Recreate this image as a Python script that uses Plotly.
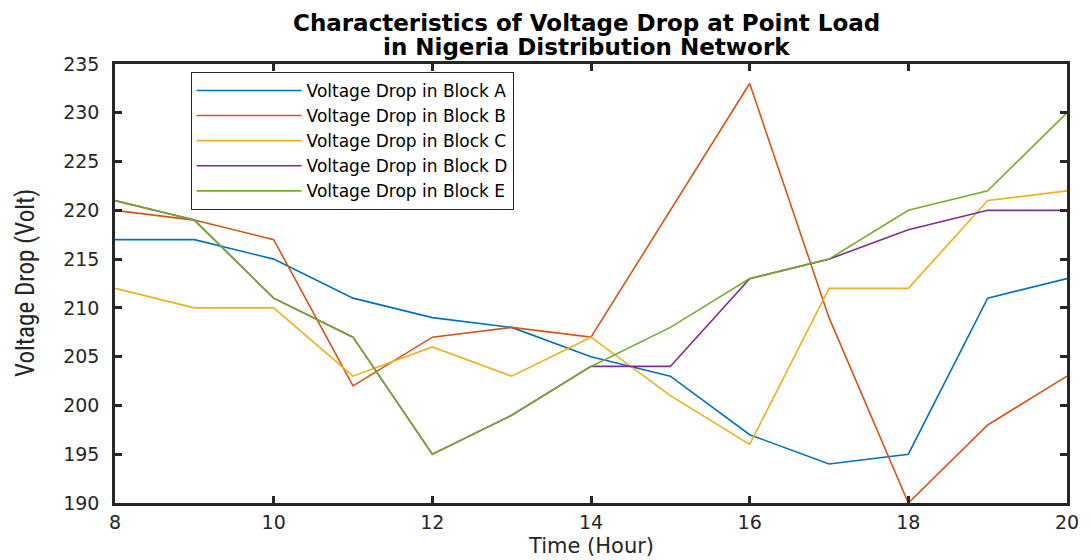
import plotly.graph_objects as go

hours = [8, 9, 10, 11, 12, 13, 14, 15, 16, 17, 18, 19, 20]
block_a = [217, 217, 215, 211, 209, 208, 205, 203, 197, 194, 195, 211, 213]
block_b = [220, 219, 217, 202, 207, 208, 207, 220, 233, 209, 190, 198, 203]
block_c = [212, 210, 210, 203, 206, 203, 207, 201, 196, 212, 212, 221, 222]
block_d = [221, 219, 211, 207, 195, 199, 204, 204, 213, 215, 218, 220, 220]
block_e = [221, 219, 211, 207, 195, 199, 204, 208, 213, 215, 220, 222, 230]

series_names = ["Voltage Drop in Block A", "Voltage Drop in Block B", "Voltage Drop in Block C",
                "Voltage Drop in Block D", "Voltage Drop in Block E"]
colors = ["#0072BD", "#D95319", "#EDB120", "#7E2F8E", "#77AC30"]
x_ticks = [8, 10, 12, 14, 16, 18, 20]
y_ticks = [190, 195, 200, 205, 210, 215, 220, 225, 230, 235]
title_lines = ["Characteristics of Voltage Drop at Point Load", "in Nigeria Distribution Network"]

WIDE = "DejaVu Sans, Verdana, sans-serif"
NARROW = "Liberation Sans Narrow, Arial Narrow, Roboto Condensed, sans-serif"

fig = go.Figure()
for name, vals, col in zip(series_names, [block_a, block_b, block_c, block_d, block_e], colors):
    fig.add_trace(go.Scatter(x=hours, y=vals, mode="lines", name=name,
                             line=dict(color=col, width=1.6)))

axis_common = dict(showline=True, linecolor="#262626", linewidth=2.5, mirror="ticks",
                   ticks="inside", ticklen=7, tickwidth=2.5, tickcolor="#262626",
                   showgrid=False, zeroline=False,
                   tickfont=dict(family=WIDE, size=19, color="#262626"))

annotations = [
    dict(text="<b>" + title_lines[0] + "</b>", xref="paper", yref="paper", x=0.4953, y=1.094,
         xanchor="center", yanchor="middle", showarrow=False,
         font=dict(family=WIDE, size=23, color="black")),
    dict(text="<b>" + title_lines[1] + "</b>", xref="paper", yref="paper", x=0.4953, y=1.038,
         xanchor="center", yanchor="middle", showarrow=False,
         font=dict(family=WIDE, size=23, color="black")),
    dict(text="Time (Hour)", xref="paper", yref="paper", x=0.5, y=-0.097,
         xanchor="center", yanchor="middle", showarrow=False,
         font=dict(family=WIDE, size=21, color="#262626")),
    dict(text="Voltage Drop (Volt)", xref="paper", yref="paper", x=-0.094, y=0.5,
         xanchor="center", yanchor="middle", showarrow=False, textangle=-90,
         font=dict(family=NARROW, size=25, color="#262626")),
]

fig.update_layout(
    width=1083, height=552,
    margin=dict(l=107, r=19, t=56, b=57),
    paper_bgcolor="white", plot_bgcolor="white",
    xaxis=dict(range=[8, 20], tickvals=x_ticks, **axis_common),
    yaxis=dict(range=[190, 235], tickvals=y_ticks, ticklabelstandoff=9, **axis_common),
    legend=dict(x=0.0794, y=0.982, xanchor="left", yanchor="top",
                bordercolor="#262626", borderwidth=1, bgcolor="white",
                font=dict(family=WIDE, size=17, color="black"),
                itemwidth=105, tracegroupgap=0),
    showlegend=True,
    annotations=annotations,
)

fig.write_html("out.html")
